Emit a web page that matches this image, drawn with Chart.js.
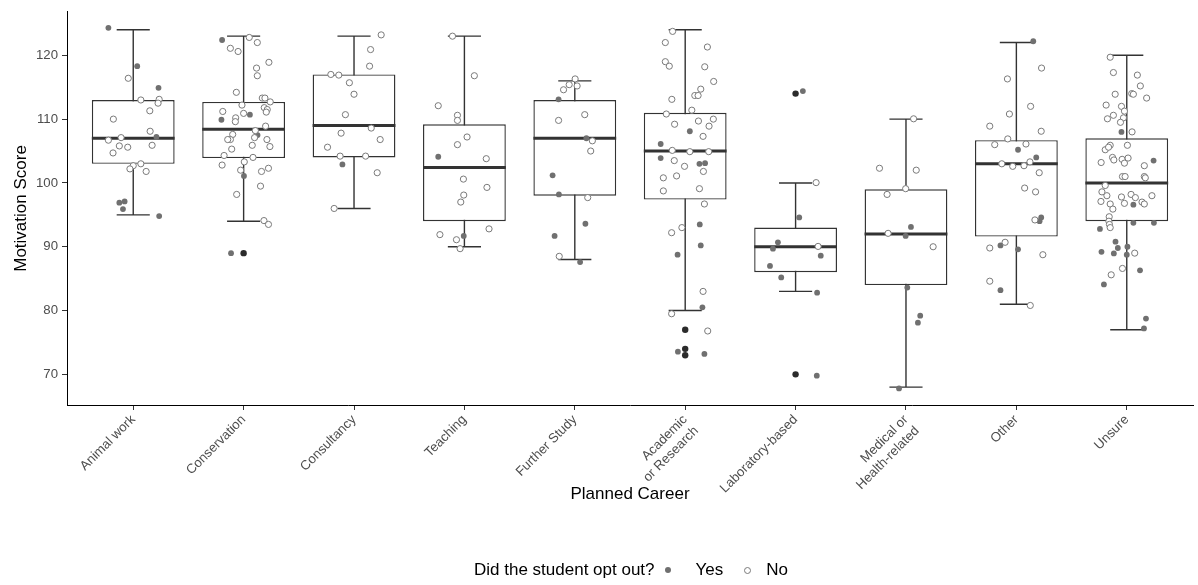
<!DOCTYPE html>
<html>
<head>
<meta charset="utf-8">
<script src="https://cdn.jsdelivr.net/npm/chart.js@4.4.1/dist/chart.umd.min.js"></script>
<style>
html,body{margin:0;padding:0;background:#fff;}
#wrap{position:relative;width:1198px;height:585px;overflow:hidden;}
canvas{display:block;}
#legend{position:absolute;left:474px;top:559px;height:22px;display:flex;align-items:center;font-family:"Liberation Sans",Arial,sans-serif;font-size:17px;color:#000;white-space:nowrap;}
#legend .dot{display:inline-block;width:6px;height:6px;border-radius:50%;background:#6f6f6f;}
#legend .ring{display:inline-block;width:5px;height:5px;border-radius:50%;border:1px solid #7a7a7a;background:#fff;}
</style>
</head>
<body>
<div id="wrap">
<canvas id="c" width="1198" height="585"></canvas>
<div id="legend"><span>Did the student opt out?</span><span class="dot" style="margin-left:10px"></span><span style="margin-left:25px">Yes</span><span class="ring" style="margin-left:21px"></span><span style="margin-left:15px">No</span></div>
</div>
<script>
// ---- data ----
const categories = [
  "Animal work", "Conservation", "Consultancy", "Teaching", "Further Study",
  ["Academic", "or Research"], "Laboratory-based", ["Medical or", "Health-related"], "Other", "Unsure"
];
const whiskerLow  = [95, 94, 96, 90, 88, 80, 83, 68, 81, 77];
const boxLow      = [103, 103.9, 104, 94, 98, 97.4, 86, 84, 91.6, 94];
const medians     = [107, 108.4, 109, 102.4, 107, 105, 90, 92, 103, 100];
const boxHigh     = [113, 112.7, 117, 109.2, 113, 111, 93, 99, 106.7, 107];
const whiskerHigh = [124, 123, 123, 123, 116, 124, 100, 110, 122, 120];
// outliers: [category index, score]
const outliers = [[1, 89], [5, 77], [5, 74], [5, 73], [6, 114], [6, 70]];
const yTicks = [70, 80, 90, 100, 110, 120];

// jittered points per category: [horizontal jitter (category units), score]
const yesPoints = [
  [[-0.225,124.3],[0.036,118.3],[0.229,114.9],[0.21,107.2],[-0.126,96.9],[-0.078,97.1],[-0.093,95.9],[0.235,94.8]],
  [[-0.195,122.4],[0.057,110.7],[-0.201,109.9],[0.126,107.5],[0.003,101.1],[-0.114,89.0]],
  [[-0.105,102.9]],
  [[-0.237,104.1],[-0.006,91.7]],
  [[-0.147,113.1],[0.105,107.0],[-0.201,101.2],[-0.144,98.2],[0.096,93.6],[-0.183,91.7],[0.048,87.6]],
  [[0.042,108.1],[-0.222,106.1],[-0.222,103.9],[0.129,103.0],[0.18,103.1],[0.132,93.5],[0.141,90.2],[-0.069,88.75],[0.156,80.5],[-0.066,73.55],[0.174,73.2]],
  [[0.066,114.4],[0.033,94.6],[-0.16,90.7],[-0.205,89.7],[0.228,88.6],[-0.232,87.0],[-0.13,85.2],[0.195,82.8],[0.192,69.8]],
  [[0.045,93.1],[-0.003,91.7],[0.012,83.6],[0.129,79.2],[0.108,78.1],[-0.063,67.8]],
  [[0.153,122.2],[0.015,105.2],[0.18,104.0],[0.225,94.6],[0.21,94.0],[-0.144,90.2],[0.015,89.6],[-0.144,83.2]],
  [[-0.048,108.0],[0.243,103.5],[0.06,96.6],[-0.243,92.8],[0.06,93.75],[0.246,93.75],[-0.102,90.8],[-0.081,89.8],[0.006,90.0],[-0.229,89.2],[-0.117,88.95],[0,88.75],[0.12,86.3],[-0.207,84.1],[0.174,78.75],[0.156,77.2]]
];
const noPoints = [
  [[-0.045,116.4],[0.069,113.0],[0.235,113.1],[0.225,112.5],[0.15,111.3],[-0.18,110.0],[0.153,108.1],[-0.11,107.1],[-0.225,106.7],[-0.126,105.8],[-0.05,105.6],[0.171,105.9],[-0.183,104.7],[0.069,103.0],[0,102.7],[-0.03,102.2],[0.117,101.8]],
  [[0.051,122.8],[0.124,122.0],[-0.12,121.1],[-0.05,120.6],[0.229,118.9],[0.117,118.0],[0.124,116.8],[-0.066,114.2],[0.169,113.3],[0.193,113.3],[0.241,112.7],[-0.015,112.2],[0.187,111.8],[0.214,111.5],[0.205,111.1],[-0.189,111.2],[0,110.9],[-0.072,110.2],[-0.075,109.6],[0.199,108.9],[0.106,108.2],[0.099,107.1],[-0.099,107.6],[-0.12,106.8],[-0.144,106.8],[0.211,106.8],[0.078,105.9],[0.238,105.7],[-0.108,105.3],[-0.177,104.3],[0.085,104.0],[-0.195,102.8],[0.006,103.3],[-0.027,102.0],[0.162,101.8],[0.225,102.3],[0.153,99.5],[-0.063,98.2],[0.184,94.1],[0.225,93.5]],
  [[0.246,123.2],[0.15,120.9],[0.141,118.3],[-0.21,117.0],[-0.138,116.9],[-0.042,115.7],[0,113.9],[-0.078,110.7],[0.156,108.6],[-0.117,107.8],[0.237,106.8],[-0.24,105.6],[-0.126,104.2],[0.105,104.2],[0.21,101.6],[-0.18,96.0]],
  [[-0.108,123.0],[0.09,116.8],[-0.237,112.1],[-0.063,110.6],[-0.063,109.8],[0.024,107.2],[-0.063,106.0],[0.198,103.8],[-0.009,100.6],[0.204,99.3],[-0.006,98.1],[-0.033,97.0],[0.223,92.8],[-0.222,91.9],[-0.072,91.1],[-0.039,89.7]],
  [[0.003,116.3],[-0.051,115.4],[-0.102,114.6],[0.021,115.2],[0.09,110.7],[-0.147,109.8],[0.159,106.6],[0.144,105.0],[0.117,97.7],[-0.141,88.5]],
  [[-0.114,123.75],[-0.18,122.0],[0.201,121.3],[-0.18,119.0],[-0.144,118.3],[0.177,118.2],[0.258,115.9],[0.141,114.7],[0.087,113.7],[0.117,113.7],[-0.121,113.1],[-0.171,110.8],[0.06,111.4],[0.255,110.0],[0.12,109.7],[-0.096,109.2],[0.216,108.9],[0.162,107.3],[-0.117,105.1],[0.042,104.9],[0.213,104.9],[-0.099,103.5],[-0.006,102.6],[0.165,101.8],[-0.078,101.1],[-0.198,100.8],[-0.198,98.75],[0.129,99.1],[0.174,96.7],[-0.03,93.0],[-0.123,92.2],[0.162,83.0],[-0.123,79.5],[0.204,76.8]],
  [[0.186,100.05],[0.204,90.05]],
  [[0.069,110.05],[-0.24,102.3],[0.093,102.0],[-0.003,99.1],[-0.171,98.2],[-0.162,92.1],[0.246,90.0]],
  [[0.228,118.0],[-0.081,116.3],[0.129,112.0],[-0.063,110.8],[-0.241,108.9],[0.225,108.1],[-0.078,106.9],[-0.196,106.0],[0.087,106.1],[0.123,103.3],[-0.132,103.0],[-0.033,102.6],[0.069,102.7],[0.207,101.6],[0.075,99.2],[0.174,98.6],[0.168,94.2],[-0.102,90.7],[-0.241,89.8],[0.24,88.75],[-0.241,84.6],[0.126,80.8]],
  [[-0.15,119.7],[-0.121,117.3],[0.096,116.9],[0.123,115.2],[-0.105,113.9],[0.045,114.0],[0.06,113.9],[0.18,113.3],[-0.187,112.2],[-0.048,112.0],[-0.021,111.25],[-0.121,110.6],[-0.175,110.05],[-0.03,110.2],[-0.057,109.5],[0.048,108.0],[0.006,105.9],[-0.15,105.9],[-0.195,105.2],[-0.165,105.6],[-0.129,104.0],[-0.117,103.6],[-0.042,103.7],[0.012,103.9],[-0.021,103.1],[-0.232,103.2],[0.159,102.7],[-0.039,101.0],[-0.015,101.0],[0.159,101.0],[0.168,100.8],[-0.195,99.6],[-0.225,98.6],[-0.18,98.0],[-0.048,97.8],[0.039,98.2],[0.078,97.7],[0.228,98.0],[-0.234,97.1],[-0.15,96.7],[-0.021,96.8],[0.138,97.0],[0.159,96.7],[-0.126,95.9],[-0.159,94.7],[-0.162,94.0],[-0.157,93.5],[-0.15,93.0],[0.072,89.0],[-0.039,86.6],[-0.141,85.6]]
];

// ---- chart ----
const FONT = '"Liberation Sans", Arial, sans-serif';
const LINE = '#333333';
const toXY = arr => arr.flatMap((pts, c) => pts.map(([j, v]) => ({x: c + j, y: v})));

const boxParts = {
  id: 'boxParts',
  beforeDatasetsDraw(chart) {
    const {ctx, scales: {x, y}} = chart;
    ctx.save();
    ctx.strokeStyle = LINE;
    ctx.lineWidth = 1.4;
    categories.forEach((c, i) => {
      const px = x.getPixelForValue(i);
      const half = x.getPixelForValue(i + 0.15) - px;
      const lo = y.getPixelForValue(whiskerLow[i]);
      const hi = y.getPixelForValue(whiskerHigh[i]);
      ctx.beginPath();
      ctx.moveTo(px, lo); ctx.lineTo(px, hi);
      ctx.moveTo(px - half, lo); ctx.lineTo(px + half, lo);
      ctx.moveTo(px - half, hi); ctx.lineTo(px + half, hi);
      ctx.stroke();
    });
    ctx.restore();
  },
  afterDatasetDraw(chart, args) {
    if (args.index !== 0) return;
    const {ctx, scales: {y}} = chart;
    const meta = chart.getDatasetMeta(0);
    ctx.save();
    ctx.strokeStyle = LINE;
    ctx.lineWidth = 3;
    meta.data.forEach((bar, i) => {
      const ym = y.getPixelForValue(medians[i]);
      ctx.beginPath();
      ctx.moveTo(bar.x - bar.width / 2, ym);
      ctx.lineTo(bar.x + bar.width / 2, ym);
      ctx.stroke();
    });
    ctx.restore();
  }
};

new Chart(document.getElementById('c'), {
  type: 'scatter',
  data: {
    datasets: [
      {
        type: 'bar', label: 'box',
        data: categories.map((c, i) => ({x: i, y: [boxLow[i], boxHigh[i]]})),
        backgroundColor: '#ffffff', borderColor: LINE, borderWidth: 1.4, borderSkipped: false,
        barPercentage: 0.75, categoryPercentage: 1, order: 3
      },
      {
        label: 'outliers', data: outliers.map(([c, v]) => ({x: c, y: v})),
        pointRadius: 3.2, backgroundColor: '#2b2b2b', borderWidth: 0, order: 2
      },
      {
        label: 'Yes', data: toXY(yesPoints),
        pointRadius: 2.9, backgroundColor: '#707070', borderWidth: 0, order: 1
      },
      {
        label: 'No', data: toXY(noPoints),
        pointRadius: 3.1, backgroundColor: '#ffffff', borderColor: '#7a7a7a', borderWidth: 1, order: 0
      }
    ]
  },
  options: {
    responsive: false,
    animation: false,
    events: [],
    devicePixelRatio: 1,
    layout: {padding: {top: 8, right: 0, bottom: 0, left: 0}},
    plugins: {legend: {display: false}, tooltip: {enabled: false}},
    scales: {
      x: {
        type: 'linear', min: -0.6, max: 9.6, offset: false,
        afterBuildTicks: s => { s.ticks = categories.map((c, i) => ({value: i})); },
        afterFit: s => { s.height = 180; },
        border: {display: true, color: '#000', width: 1},
        grid: {offset: false, drawOnChartArea: false, drawTicks: true, tickLength: 5, color: LINE},
        ticks: {
          autoSkip: false, minRotation: 45, maxRotation: 45, padding: 2,
          color: '#4d4d4d', font: {family: FONT, size: 13.2},
          callback: v => categories[v]
        },
        title: {display: true, text: 'Planned Career', color: '#000', font: {family: FONT, size: 17}, padding: {top: 0, bottom: 80}}
      },
      y: {
        type: 'linear', min: 65.2, max: 126.8,
        afterBuildTicks: s => { s.ticks = yTicks.map(v => ({value: v})); },
        afterFit: s => { s.width = 67; },
        border: {display: true, color: '#000', width: 1},
        grid: {drawOnChartArea: false, drawTicks: true, tickLength: 5, color: LINE},
        ticks: {color: '#4d4d4d', font: {family: FONT, size: 13.2}, padding: 4},
        title: {display: true, text: 'Motivation Score', color: '#000', font: {family: FONT, size: 17}, padding: {top: 11, bottom: 0}}
      }
    }
  },
  plugins: [boxParts]
});
</script>
</body>
</html>
